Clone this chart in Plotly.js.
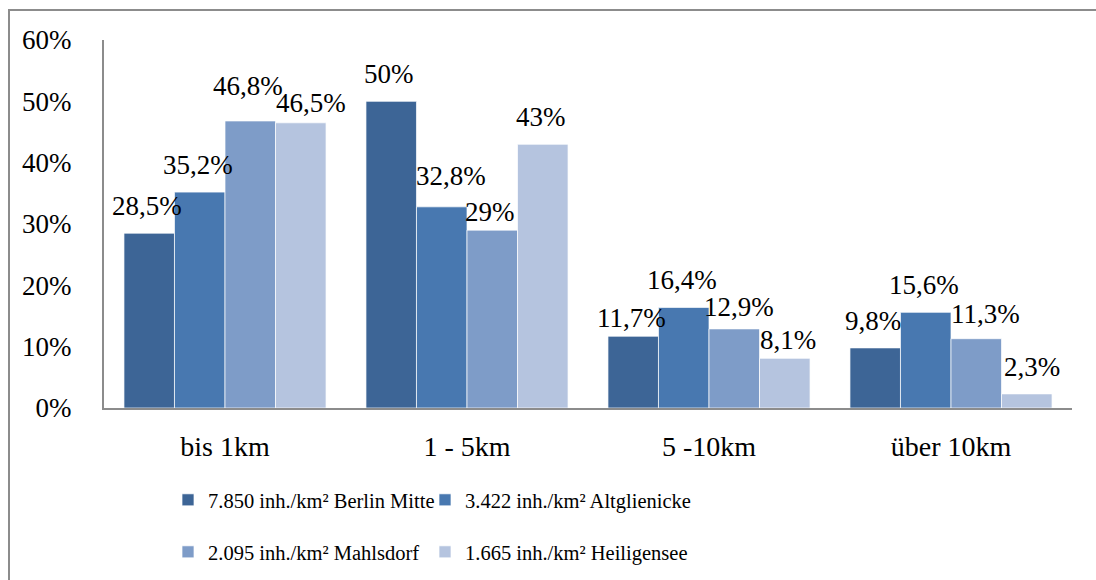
<!DOCTYPE html>
<html>
<head>
<meta charset="utf-8">
<script src="https://cdn.plot.ly/plotly-3.0.1.min.js"></script>
<style>
  html, body { margin: 0; padding: 0; background: #fff; }
  #frame { position: absolute; left: 8px; top: 9px; width: 1300px; height: 800px; border: 2px solid #8c8c8c; box-sizing: border-box; }
  #chart { position: absolute; left: 0; top: 0; width: 1096px; height: 580px; }
</style>
</head>
<body>
<div id="frame"></div>
<div id="chart"></div>
<script>
// ---- data ----
const categories = ["bis 1km", "1 - 5km", "5 -10km", "über 10km"];
const seriesNames = [
  "7.850 inh./km² Berlin Mitte",
  "3.422 inh./km² Altglienicke",
  "2.095 inh./km² Mahlsdorf",
  "1.665 inh./km² Heiligensee"
];
const berlinMitte  = [28.5, 50, 11.7, 9.8];
const altglienicke = [35.2, 32.8, 16.4, 15.6];
const mahlsdorf    = [46.8, 29, 12.9, 11.3];
const heiligensee  = [46.5, 43, 8.1, 2.3];
const yTicks = [0, 10, 20, 30, 40, 50, 60];
const yTickLabels = ["0%", "10%", "20%", "30%", "40%", "50%", "60%"];

// ---- style ----
const seriesValues = [berlinMitte, altglienicke, mahlsdorf, heiligensee];
const colors = ["#3d6596", "#4878b0", "#7e9cc8", "#b5c4df"];
const legendIds = ["legend", "legend2", "legend3", "legend4"];
// legend entry anchor positions in container pixels: [left, middleY]
const legendPos = [[168, 500], [425, 500], [168, 552], [425, 552]];
// label nudges (px) to mimic the original's collision handling: [dx, dyUp]
const labelNudge = [
  [[0, 0], [0, 0], [0, -9], [0, 0]],
  [[0, 0], [11, 4], [0, 0], [0, 0]],
  [[0, 8], [0, -9], [7, -5], [11, -2]],
  [[12, -7], [0, 0], [5, -9], [7, 0]]
];
const FONT = 'Liberation Serif';
const W = 1096, H = 580;
const bargap = 0.165;

const fmt = v => String(v).replace('.', ',') + '%';

const traces = seriesValues.map((vals, s) => ({
  type: 'bar',
  name: seriesNames[s],
  x: categories,
  y: vals,
  marker: { color: colors[s], line: { color: 'rgba(255,255,255,0.7)', width: 1 } },
  legend: legendIds[s],
  hoverinfo: 'skip'
}));

const annotations = [];
const barFrac = (1 - bargap) / seriesValues.length;
seriesValues.forEach((vals, s) => {
  vals.forEach((v, c) => {
    annotations.push({
      x: c + (s - (seriesValues.length - 1) / 2) * barFrac,
      y: v,
      xref: 'x', yref: 'y',
      text: fmt(v),
      showarrow: false,
      xanchor: 'center', yanchor: 'bottom',
      xshift: labelNudge[s][c][0] - 2,
      yshift: 10 + labelNudge[s][c][1],
      font: { family: FONT, size: 27, color: '#000' }
    });
  });
});

const layout = {
  width: W, height: H,
  margin: { l: 104, r: 24, t: 40, b: 172, pad: 0 },
  paper_bgcolor: 'rgba(0,0,0,0)',
  plot_bgcolor: 'rgba(0,0,0,0)',
  barmode: 'group',
  bargap: bargap,
  bargroupgap: 0,
  font: { family: FONT, size: 27, color: '#000' },
  xaxis: {
    type: 'category',
    showgrid: false, zeroline: false,
    showline: true, linecolor: '#8c8c8c', linewidth: 2,
    ticks: '', ticklabelstandoff: 12,
    tickfont: { family: FONT, size: 28, color: '#000' },
    fixedrange: true
  },
  yaxis: {
    range: [0, 60],
    tickvals: yTicks, ticktext: yTickLabels,
    showgrid: false, zeroline: false,
    showline: true, linecolor: '#8c8c8c', linewidth: 2,
    ticks: '', ticklabelstandoff: 25,
    tickfont: { family: FONT, size: 27, color: '#000' },
    fixedrange: true
  },
  annotations: annotations,
  showlegend: true
};
legendIds.forEach((id, i) => {
  layout[id] = {
    orientation: 'h', xref: 'container', yref: 'container',
    x: legendPos[i][0] / W, y: 1 - legendPos[i][1] / H,
    xanchor: 'left', yanchor: 'middle',
    font: { family: FONT, size: 20.5, color: '#000' },
    bgcolor: 'rgba(0,0,0,0)'
  };
});

Plotly.newPlot('chart', traces, layout, { displayModeBar: false, staticPlot: true });
</script>
</body>
</html>
